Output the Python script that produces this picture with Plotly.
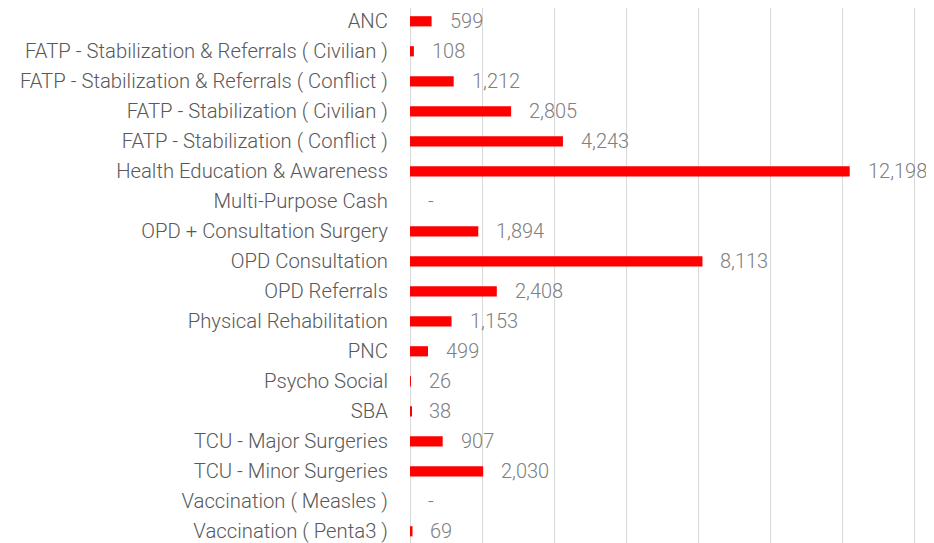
import plotly.graph_objects as go

categories = [
    "ANC",
    "FATP - Stabilization & Referrals ( Civilian )",
    "FATP - Stabilization & Referrals ( Conflict )",
    "FATP - Stabilization ( Civilian )",
    "FATP - Stabilization ( Conflict )",
    "Health Education & Awareness",
    "Multi-Purpose Cash",
    "OPD + Consultation Surgery",
    "OPD Consultation",
    "OPD Referrals",
    "Physical Rehabilitation",
    "PNC",
    "Psycho Social",
    "SBA",
    "TCU - Major Surgeries",
    "TCU - Minor Surgeries",
    "Vaccination ( Measles )",
    "Vaccination ( Penta3 )",
]
values = [599, 108, 1212, 2805, 4243, 12198, 0, 1894, 8113, 2408, 1153, 499, 26, 38, 907, 2030, 0, 69]
labels = [f"{v:,}" if v else "-" for v in values]

FONT = "Roboto Light, Roboto"

fig = go.Figure()
fig.add_trace(go.Bar(
    x=values, y=categories, orientation="h",
    marker=dict(color="#FF0000", line=dict(width=0)),
    width=0.34, hoverinfo="x+y",
))

for c, v, t in zip(categories, values, labels):
    fig.add_annotation(
        x=v, y=c, text=t, showarrow=False, xanchor="left", yanchor="middle",
        xshift=16, yshift=0,
        font=dict(family=FONT, size=20, color="#808080", weight=300),
    )

# page body has an 8px margin, so the figure is sized to fit the window
fig.update_layout(
    width=926, height=535,
    margin=dict(l=402, r=17, t=0, b=0, autoexpand=False),
    paper_bgcolor="white", plot_bgcolor="white",
    showlegend=False,
    xaxis=dict(
        range=[0, 14064], dtick=2000, tick0=0, showticklabels=False,
        showgrid=True, gridcolor="#d9d9d9", gridwidth=1,
        zeroline=True, zerolinecolor="#d9d9d9", zerolinewidth=1,
        showline=False, fixedrange=True, automargin=False,
    ),
    yaxis=dict(
        categoryorder="array", categoryarray=categories,
        range=[17.39, -0.443],
        showgrid=False, zeroline=False, showline=False,
        ticks="outside", ticklen=17, tickcolor="rgba(0,0,0,0)",
        tickfont=dict(family=FONT, size=20.3, color="#595959", weight=300),
        fixedrange=True, automargin=False,
    ),
)

fig.write_html("out.html")
